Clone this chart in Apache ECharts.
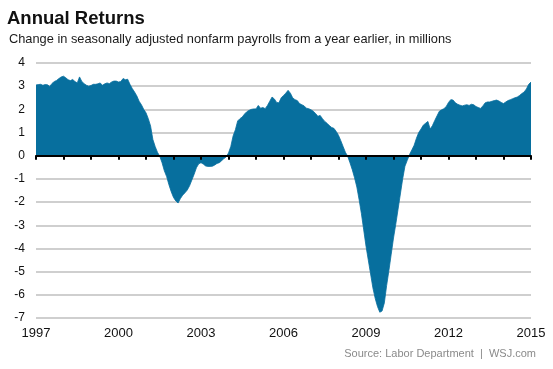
<!DOCTYPE html>
<html>
<head>
<meta charset="utf-8">
<script src="https://cdn.jsdelivr.net/npm/echarts@6/dist/echarts.min.js"></script>
<style>
  html, body { margin: 0; padding: 0; background: #ffffff; }
  #chart { width: 553px; height: 369px; }
</style>
</head>
<body>
<div id="chart"></div>
<script>
// ---- Data ----
const titleText = 'Annual Returns';
const subtitleText = 'Change in seasonally adjusted nonfarm payrolls from a year earlier, in millions';
const sourceText = 'Source: Labor Department  |  WSJ.com';

const startYear = 1997;               // first month = January 1997, monthly data
const xTickYears = [1997, 2000, 2003, 2006, 2009, 2012, 2015];
const yTicks = [-7, -6, -5, -4, -3, -2, -1, 0, 1, 2, 3, 4];

// Year-over-year change in nonfarm payrolls, millions, Jan 1997 .. Jan 2015
const payrollChange = [
  // 1997
  3.05, 3.07, 3.08, 3.04, 3.07, 3.06, 2.99, 3.12, 3.20, 3.25, 3.33, 3.40,
  // 1998
  3.43, 3.36, 3.28, 3.24, 3.29, 3.20, 3.14, 3.40, 3.20, 3.11, 3.04, 3.00,
  // 1999
  3.03, 3.08, 3.08, 3.10, 3.14, 3.04, 3.10, 3.14, 3.11, 3.18, 3.22, 3.22,
  // 2000
  3.18, 3.20, 3.33, 3.28, 3.30, 3.08, 2.90, 2.75, 2.58, 2.35, 2.20, 2.00,
  // 2001
  1.85, 1.60, 1.28, 0.70, 0.40, 0.15, -0.02, -0.30, -0.65, -0.90, -1.25, -1.55,
  // 2002
  -1.80, -1.95, -2.04, -1.85, -1.70, -1.60, -1.48, -1.30, -1.05, -0.80, -0.52, -0.35,
  // 2003
  -0.30, -0.36, -0.44, -0.46, -0.46, -0.45, -0.40, -0.33, -0.30, -0.22, -0.12, -0.05,
  // 2004
  0.12, 0.40, 0.85, 1.12, 1.50, 1.60, 1.67, 1.80, 1.90, 1.96, 2.00, 2.02,
  // 2005
  2.02, 2.17, 2.05, 2.08, 2.03, 2.17, 2.35, 2.53, 2.45, 2.30, 2.28, 2.50,
  // 2006
  2.60, 2.70, 2.82, 2.70, 2.50, 2.42, 2.38, 2.25, 2.20, 2.15, 2.05, 2.03,
  // 2007
  1.98, 1.92, 1.82, 1.70, 1.74, 1.60, 1.48, 1.40, 1.30, 1.22, 1.18, 1.05,
  // 2008
  0.88, 0.65, 0.40, 0.15, -0.02, -0.30, -0.60, -0.95, -1.35, -1.90, -2.50, -3.20,
  // 2009
  -3.90, -4.50, -5.10, -5.70, -6.15, -6.50, -6.75, -6.70, -6.35, -5.60, -4.95, -4.25,
  // 2010
  -3.55, -2.95, -2.30, -1.65, -1.00, -0.45, -0.20, 0.05, 0.25, 0.45, 0.75, 1.00,
  // 2011
  1.15, 1.32, 1.40, 1.48, 1.15, 1.30, 1.52, 1.72, 1.92, 1.98, 2.03, 2.12,
  // 2012
  2.30, 2.42, 2.40, 2.28, 2.22, 2.18, 2.15, 2.18, 2.20, 2.17, 2.22, 2.20,
  // 2013
  2.12, 2.08, 2.04, 2.15, 2.28, 2.32, 2.32, 2.35, 2.38, 2.40, 2.36, 2.30,
  // 2014
  2.25, 2.32, 2.38, 2.42, 2.46, 2.50, 2.53, 2.60, 2.68, 2.75, 2.88, 3.08,
  // 2015
  3.18
];

// ---- Build chart ----
// x value = years elapsed since January of startYear
const seriesData = payrollChange.map((v, i) => [i / 12, v]);
const xSpan = xTickYears[xTickYears.length - 1] - xTickYears[0];

const FONT = "'Liberation Sans', Arial, Helvetica, sans-serif";
const chart = echarts.init(document.getElementById('chart'), null, { renderer: 'canvas' });

chart.setOption({
  animation: false,
  backgroundColor: '#ffffff',
  textStyle: { fontFamily: FONT },
  title: [
    {
      text: titleText, left: 7, top: 9, padding: 0,
      textStyle: { fontFamily: FONT, fontSize: 18.5, fontWeight: 'bold', color: '#111111' }
    },
    {
      text: subtitleText, left: 9, top: 33, padding: 0,
      textStyle: { fontFamily: FONT, fontSize: 12.8, fontWeight: 'normal', color: '#1a1a1a' }
    },
    {
      text: sourceText, right: 17, top: 348, padding: 0,
      textStyle: { fontFamily: FONT, fontSize: 11, fontWeight: 'normal', color: '#8a8a8a' }
    }
  ],
  grid: { left: 36, right: 22, top: 63, bottom: 51, containLabel: false },
  xAxis: [
    {
      type: 'value', min: 0, max: xSpan, interval: 3,
      axisLine: { show: false, onZero: false },
      axisTick: { show: false },
      splitLine: { show: false },
      axisLabel: {
        margin: 9, fontSize: 13, color: '#111111', fontFamily: FONT,
        formatter: v => String(xTickYears[0] + v)
      }
    },
    {
      type: 'value', min: 0, max: xSpan, interval: 1,
      position: 'bottom', z: 5,
      axisLine: { show: true, onZero: true, onZeroAxisIndex: 0, lineStyle: { color: '#000000', width: 2 } },
      axisTick: { show: true, length: 4, inside: false, lineStyle: { color: '#000000', width: 2 } },
      axisLabel: { show: false },
      splitLine: { show: false }
    }
  ],
  yAxis: {
    type: 'value', min: yTicks[0], max: yTicks[yTicks.length - 1], interval: 1,
    axisLine: { show: false },
    axisTick: { show: false },
    axisLabel: { margin: 11, fontSize: 12, color: '#111111', fontFamily: FONT },
    splitLine: { show: true, lineStyle: { color: '#cfcfcf', width: 2 } }
  },
  series: [
    {
      type: 'line',
      xAxisIndex: 0,
      yAxisIndex: 0,
      data: seriesData,
      showSymbol: false,
      symbol: 'none',
      smooth: false,
      lineStyle: { width: 0.8, color: '#076f9e' },
      areaStyle: { color: '#076f9e', opacity: 1 },
      z: 2
    }
  ]
});
</script>
</body>
</html>
